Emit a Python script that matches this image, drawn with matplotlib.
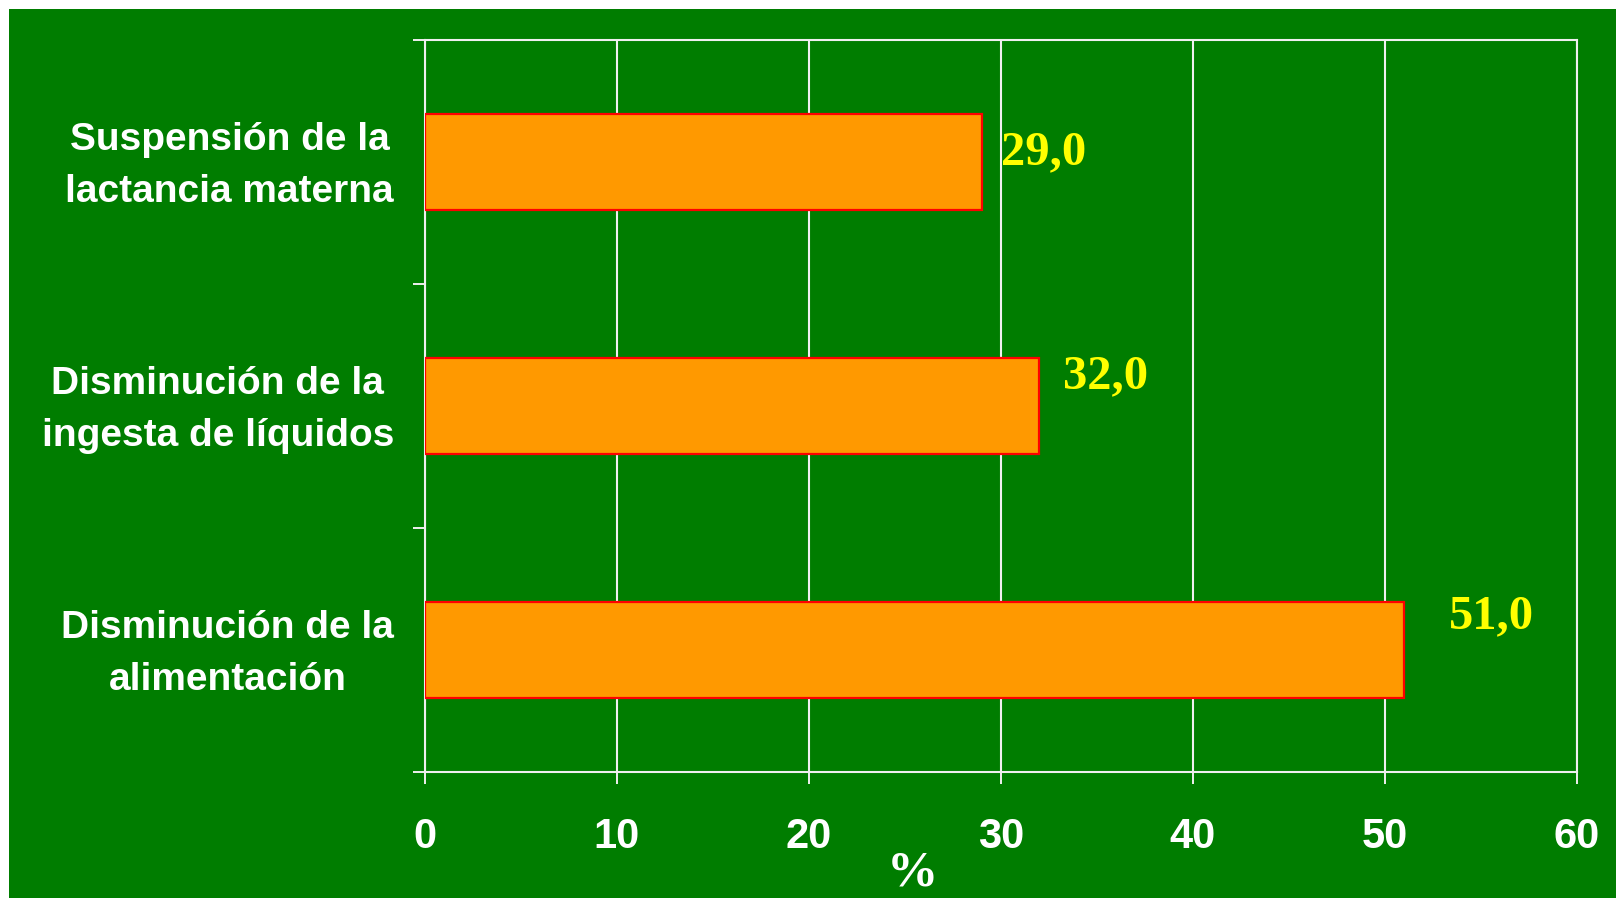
import matplotlib
matplotlib.use("Agg")
import matplotlib.pyplot as plt
import matplotlib.transforms as mtransforms
from matplotlib.patches import Rectangle

categories = ["Suspensión de la\nlactancia materna",
              "Disminución de la\ningesta de líquidos",
              "Disminución de la\nalimentación"]
values = [29.0, 32.0, 51.0]
value_labels = ["29,0", "32,0", "51,0"]
xticks = [0, 10, 20, 30, 40, 50, 60]

# label offsets in points (dx, dy)
label_offsets = [(14, 7), (17, 21.5), (32, 24)]

GREEN = "#007D00"
W, H = 1616, 898
fig = plt.figure(figsize=(W / 100, H / 100), dpi=100, facecolor="white")
bg = Rectangle((9 / W, 0), 1 - 9 / W, 1 - 9 / H, transform=fig.transFigure,
               facecolor=GREEN, edgecolor="none", zorder=-10)
fig.patches.append(bg)

ax = fig.add_axes([425 / W, 1 - 772 / H, (1577 - 425) / W, (772 - 40) / H])
ax.set_zorder(5)
ax.set_facecolor(GREEN)

ypos = list(range(len(categories)))
ax.barh(ypos, values, height=0.39, color="#FF9900", edgecolor="#FF0000", linewidth=1.6, zorder=3)

ax.set_xlim(0, 60)
ax.set_ylim(len(categories) - 0.5, -0.5)

ax.set_xticks(xticks)
ax.set_xticklabels([str(t) for t in xticks], fontsize=30, fontweight="bold",
                   family="Liberation Sans", color="white")
ax.set_yticks([-0.5, 0.5, 1.5, 2.5])
ax.set_yticklabels([])

# category labels, right-aligned next to the axis, lines centred
trans = ax.get_yaxis_transform() + mtransforms.ScaledTranslation(-31 / 100, -4 / 100, fig.dpi_scale_trans)
for i, cat in enumerate(categories):
    ax.text(0, i, cat, transform=trans, ha="right", va="center", multialignment="center",
            fontsize=28, fontweight="bold", family="Liberation Sans", color="white",
            linespacing=1.57, clip_on=False)

ax.tick_params(axis="x", which="major", length=8.6, width=1.4, color="#F0F0F0", pad=24)
ax.tick_params(axis="y", which="major", length=8.6, width=1.4, color="#F0F0F0")

ax.grid(axis="x", color="#F0F0F0", linewidth=1.5, zorder=1)
ax.set_axisbelow(True)
for s in ax.spines.values():
    s.set_color("#F0F0F0")
    s.set_linewidth(1.5)

for i, (v, lab) in enumerate(zip(values, value_labels)):
    dx, dy = label_offsets[i]
    ax.annotate(lab, xy=(v, i), xytext=(dx, dy), textcoords="offset points",
                ha="left", va="center", fontsize=35, fontweight="bold",
                family="Liberation Serif", color="#FFFF00", zorder=5)

fig.text(912 / W, 1 - 873 / H, "%", ha="center", va="center", fontsize=37,
         fontweight="bold", family="Liberation Serif", color="white")

fig.savefig("out.png", dpi=100, facecolor="white")
